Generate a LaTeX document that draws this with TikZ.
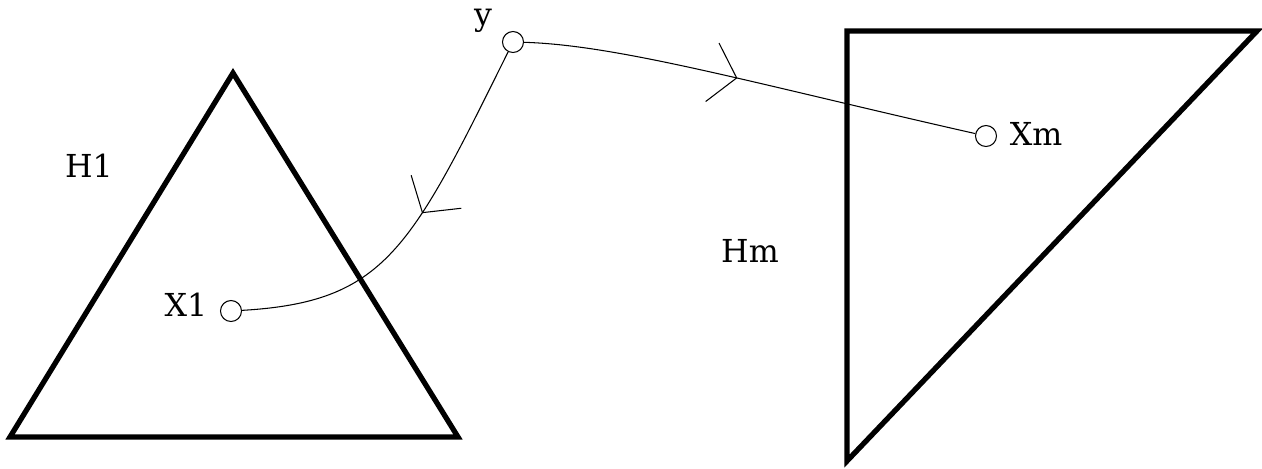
\documentclass[tikz,border=0pt]{standalone}
\usepackage{fontspec}
\setmainfont{DejaVu Serif}
\usepackage{tikz}
\usetikzlibrary{arrows.meta, decorations.markings, positioning}

\tikzset{
  region/.style={line width=3pt, line join=miter},
  pointnode/.style={circle, draw, line width=0.6pt, minimum size=0.42cm, inner sep=0pt},
  lbl/.style={font=\fontsize{18}{21}\selectfont, inner sep=0pt, anchor=base},
  pathline/.style={line width=0.6pt, postaction={decorate}},
  midarrow/.style={decoration={markings, mark=at position #1 with {\arrow{Straight Barb[length=5mm,width=12mm]}}}}
}

\begin{document}
\begin{tikzpicture}[x=0.02cm, y=-0.02cm]
\useasboundingbox (0,0) rectangle (1262,468);

% Regions
\draw[region] (233,73) -- (458,437) -- (10,437) -- cycle;
\draw[region] (847,31) -- (1257,31) -- (847,461) -- cycle;

% Points
\node[pointnode] at (513,42) (y) {};
\node[pointnode] at (231,311) (X1) {};
\node[pointnode] at (986,136) (Xm) {};

% Labels
\node[lbl] at (483,25) (lblY) {y};
\node[lbl] at (89,177) (lblH1) {H1};
\node[lbl] at (186,316) (lblX1) {X1};
\node[lbl] at (750,262) (lblHm) {Hm};
\node[lbl] at (1036,145) (lblXm) {Xm};

% Paths from y
\draw[pathline, midarrow=0.46] (y) .. controls (410,250) and (385,302) .. (X1);
\draw[pathline, midarrow=0.47] (y) .. controls (620,45) and (760,85) .. (Xm);

\end{tikzpicture}
\end{document}
